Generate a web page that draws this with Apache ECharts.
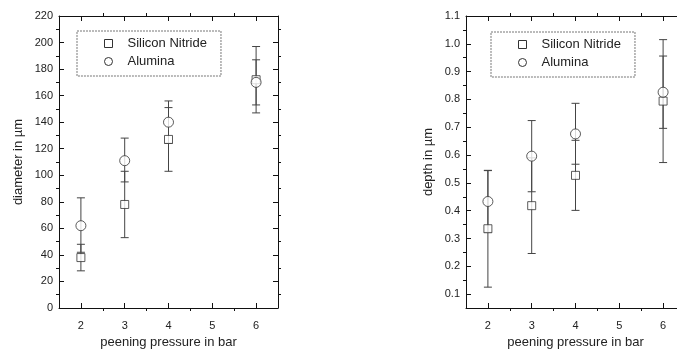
<!DOCTYPE html>
<html>
<head>
<meta charset="utf-8">
<script src="https://cdn.jsdelivr.net/npm/echarts@6/dist/echarts.min.js"></script>
<style>
  html, body { margin: 0; padding: 0; background: #fff; }
  #chart { width: 677px; height: 350px; }
</style>
</head>
<body>
<div id="chart"></div>
<script>
// peening pressure (bar)
const pressure = [2, 3, 4, 6];

// left panel: impact diameter in µm
const diamNitride = [38, 78, 127, 172];
const diamNitrideLow = [28, 53, 103, 147];
const diamNitrideHigh = [48, 103, 151, 197];
const diamAlumina = [62, 111, 140, 170];
const diamAluminaLow = [42, 95, 124, 153];
const diamAluminaHigh = [83, 128, 156, 187];

// right panel: impact depth in µm
const depthNitride = [0.335, 0.418, 0.527, 0.794];
const depthNitrideLow = [0.125, 0.246, 0.401, 0.573];
const depthNitrideHigh = [0.545, 0.59, 0.653, 1.015];
const depthAlumina = [0.433, 0.596, 0.676, 0.826];
const depthAluminaLow = [0.322, 0.468, 0.567, 0.696];
const depthAluminaHigh = [0.544, 0.724, 0.786, 0.956];

const seriesNames = ['Silicon Nitride', 'Alumina'];

const font = 'Liberation Sans, Arial, sans-serif';
const ink = '#222';

const chart = echarts.init(document.getElementById('chart'));

const pts = (vals) => pressure.map((p, i) => [p, vals[i]]);
const bars = (lo, hi) => pressure.map((p, i) => [p, lo[i], hi[i]]);

function errorBars(api) {
  const top = api.coord([api.value(0), api.value(2)]);
  const bot = api.coord([api.value(0), api.value(1)]);
  const w = 4;
  const style = { stroke: '#444', lineWidth: 1 };
  return {
    type: 'group',
    children: [
      { type: 'line', shape: { x1: top[0], y1: top[1], x2: bot[0], y2: bot[1] }, style },
      { type: 'line', shape: { x1: top[0] - w, y1: top[1], x2: top[0] + w, y2: top[1] }, style },
      { type: 'line', shape: { x1: bot[0] - w, y1: bot[1], x2: bot[0] + w, y2: bot[1] }, style },
    ],
  };
}

const axisLine = { show: true, onZero: false, lineStyle: { color: '#111', width: 1 } };
const tick = { show: true, inside: true, length: 5, lineStyle: { color: '#111' } };
// minor ticks do not follow axisTick.inside, so flip them with a negative length
const minor = { show: true, splitNumber: 2, length: -3, lineStyle: { color: '#111' } };
const label = { color: ink, fontFamily: font, fontSize: 11 };
const nameStyle = { color: ink, fontFamily: font, fontSize: 13 };

function xAxes(gridIndex) {
  const base = {
    type: 'value', gridIndex, min: 1.5, max: 6.5, splitNumber: 5,
    axisLine, axisTick: tick, minorTick: minor, splitLine: { show: false },
  };
  return [
    Object.assign({}, base, {
      position: 'bottom',
      name: 'peening pressure in bar', nameLocation: 'middle', nameGap: 28, nameTextStyle: nameStyle,
      axisLabel: Object.assign({ margin: 12, showMinLabel: false, showMaxLabel: false }, label),
    }),
    Object.assign({}, base, { position: 'top', axisLabel: { show: false } }),
  ];
}

function yAxes(gridIndex, name, gap, opts, fmt) {
  const base = Object.assign({
    type: 'value', gridIndex,
    axisLine, axisTick: tick, minorTick: minor, splitLine: { show: false },
  }, opts);
  return [
    Object.assign({}, base, {
      position: 'left',
      name, nameLocation: 'middle', nameGap: gap, nameTextStyle: nameStyle,
      axisLabel: Object.assign({ margin: 6, formatter: fmt, showMinLabel: opts.min !== 0.05 }, label),
    }),
    Object.assign({}, base, { position: 'right', axisLabel: { show: false } }),
  ];
}

const markerStyle = { color: '#fff', borderColor: '#333', borderWidth: 1 };

function panelSeries(axis, nitride, nLo, nHi, alumina, aLo, aHi) {
  return [
    { type: 'custom', name: seriesNames[0], xAxisIndex: axis, yAxisIndex: axis,
      renderItem: (p, api) => errorBars(api), data: bars(nLo, nHi), z: 2 },
    { type: 'custom', name: seriesNames[1], xAxisIndex: axis, yAxisIndex: axis,
      renderItem: (p, api) => errorBars(api), data: bars(aLo, aHi), z: 2 },
    { type: 'scatter', name: seriesNames[0], xAxisIndex: axis, yAxisIndex: axis,
      symbol: 'rect', symbolSize: 8, itemStyle: markerStyle, data: pts(nitride), z: 3 },
    { type: 'scatter', name: seriesNames[1], xAxisIndex: axis, yAxisIndex: axis,
      symbol: 'circle', symbolSize: 10, itemStyle: markerStyle, data: pts(alumina), z: 4 },
  ];
}

function legend(left, top) {
  return {
    orient: 'vertical', left, top,
    padding: [6, 14, 8, 27],
    itemWidth: 8, itemHeight: 8, itemGap: 5,
    borderColor: '#777', borderWidth: 1, borderType: [2, 1],
    textStyle: { color: ink, fontFamily: font, fontSize: 13, padding: [0, 0, 0, 10] },
    data: [
      { name: seriesNames[0], icon: 'rect', itemStyle: markerStyle },
      { name: seriesNames[1], icon: 'circle', itemStyle: markerStyle },
    ],
  };
}

chart.setOption({
  animation: false,
  backgroundColor: '#fff',
  grid: [
    { left: 59, top: 16, width: 219, height: 292, outerBoundsMode: 'none' },
    { left: 466, top: 16, width: 219, height: 292, outerBoundsMode: 'none' },
  ],
  legend: [legend(77, 31), legend(491, 32)],
  xAxis: [...xAxes(0), ...xAxes(1)],
  yAxis: [
    ...yAxes(0, 'diameter in µm', 34, { min: 0, max: 220, interval: 20 }, (v) => String(v)),
    ...yAxes(1, 'depth in µm', 31, { min: 0.05, max: 1.1, splitNumber: 10 }, (v) => v.toFixed(1)),
  ],
  series: [
    ...panelSeries(0, diamNitride, diamNitrideLow, diamNitrideHigh, diamAlumina, diamAluminaLow, diamAluminaHigh),
    ...panelSeries(2, depthNitride, depthNitrideLow, depthNitrideHigh, depthAlumina, depthAluminaLow, depthAluminaHigh),
  ],
});
</script>
</body>
</html>
